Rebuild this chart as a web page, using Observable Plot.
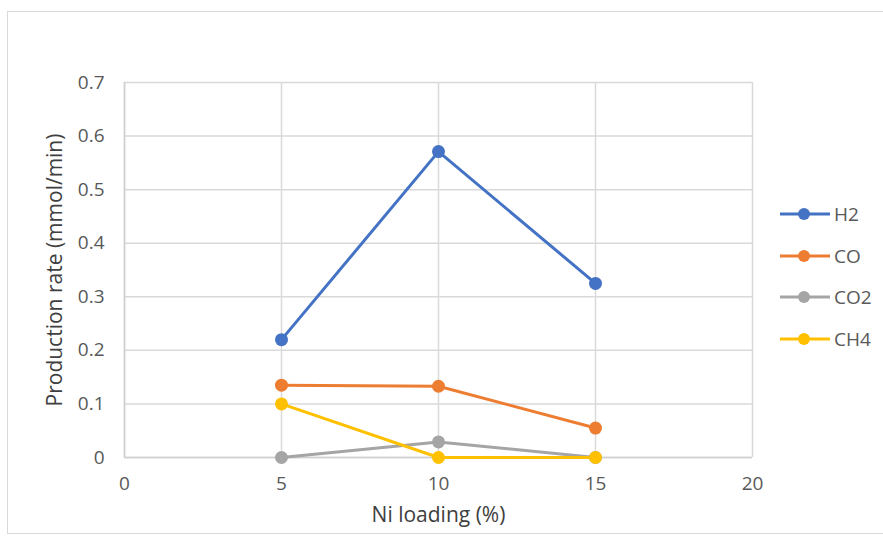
<!DOCTYPE html>
<html>
<head>
<meta charset="utf-8">
<script src="https://cdn.jsdelivr.net/npm/d3@7"></script>
<script src="https://cdn.jsdelivr.net/npm/@observablehq/plot@0.6"></script>
<style>
  html, body { margin: 0; padding: 0; background: #fff; }
  #wrap { position: relative; width: 883px; height: 539px; font-family: "Open Sans", "Liberation Sans", sans-serif; }
  #border { position: absolute; left: 7px; top: 11px; width: 880px; height: 523px; border: 1px solid #d9d9d9; box-sizing: border-box; }
  #chart { position: absolute; left: 0; top: 0; }
  #legend { position: absolute; left: 779px; top: 193px; }
  .item { display: flex; align-items: center; height: 41.7px; font-size: 19px; color: #595959; }
  .item svg { margin-right: 3px; }
</style>
</head>
<body>
<div id="wrap">
  <div id="border"></div>
  <div id="chart"></div>
  <div id="legend"></div>
</div>
<script>
// Ni loading (%) on the x axis
const loading = [5, 10, 15];
// Production rates (mmol/min) per gas
const h2  = [0.220, 0.571, 0.325];
const co  = [0.135, 0.133, 0.055];
const co2 = [0.000, 0.029, 0.000];
const ch4 = [0.100, 0.000, 0.000];

const seriesNames = ["H2", "CO", "CO2", "CH4"];
const seriesColors = ["#4472C4", "#ED7D31", "#A5A5A5", "#FFC000"];
const xTicks = [0, 5, 10, 15, 20];
const yTicks = [0, 0.1, 0.2, 0.3, 0.4, 0.5, 0.6, 0.7];

const rows = [];
[h2, co, co2, ch4].forEach((vals, i) => {
  vals.forEach((v, j) => rows.push({gas: seriesNames[i], x: loading[j], y: v}));
});

const yFormat = d => d === 0 ? "0" : d3.format(".1f")(d);

const chart = Plot.plot({
  width: 883,
  height: 539,
  marginLeft: 124,
  marginRight: 131,
  marginTop: 82,
  marginBottom: 82,
  style: {fontFamily: '"Open Sans", "Liberation Sans", sans-serif', fontSize: "19px", color: "#595959", background: "transparent"},
  x: {domain: [0, 20], label: null},
  y: {domain: [0, 0.7], label: null},
  color: {domain: seriesNames, range: seriesColors},
  marks: [
    Plot.gridX(xTicks, {stroke: "#d9d9d9", strokeOpacity: 1, strokeWidth: 1.5}),
    Plot.gridY(yTicks, {stroke: "#d9d9d9", strokeOpacity: 1, strokeWidth: 1.5}),
    Plot.ruleX([0], {stroke: "#cfcfcf", strokeWidth: 1.5}),
    Plot.ruleY([0], {stroke: "#cfcfcf", strokeWidth: 1.5}),
    Plot.axisX({ticks: xTicks, tickSize: 0, tickPadding: 19, fontSize: 19, fill: "#595959", label: null}),
    Plot.axisY({ticks: yTicks, tickSize: 0, tickPadding: 20, fontSize: 19, fill: "#595959", tickFormat: yFormat, label: null}),
    Plot.line(rows, {x: "x", y: "y", z: "gas", stroke: "gas", strokeWidth: 3}),
    Plot.dot(rows, {x: "x", y: "y", fill: "gas", r: 6.5}),
    Plot.text(["Ni loading (%)"], {frameAnchor: "bottom", dy: 64, fontSize: 21, fill: "#404040"}),
    Plot.text(["Production rate (mmol/min)"], {frameAnchor: "left", textAnchor: "middle", dx: -69, rotate: -90, fontSize: 21, fill: "#404040"})
  ]
});
document.getElementById("chart").appendChild(chart);

// Legend: line with a centred marker, then the series name
const legend = document.getElementById("legend");
seriesNames.forEach((name, i) => {
  const item = document.createElement("div");
  item.className = "item";
  item.innerHTML = `<svg width="52" height="14"><line x1="1" y1="7" x2="51" y2="7" stroke="${seriesColors[i]}" stroke-width="3"/><circle cx="25" cy="7" r="6" fill="${seriesColors[i]}"/></svg><span>${name}</span>`;
  legend.appendChild(item);
});
</script>
</body>
</html>
